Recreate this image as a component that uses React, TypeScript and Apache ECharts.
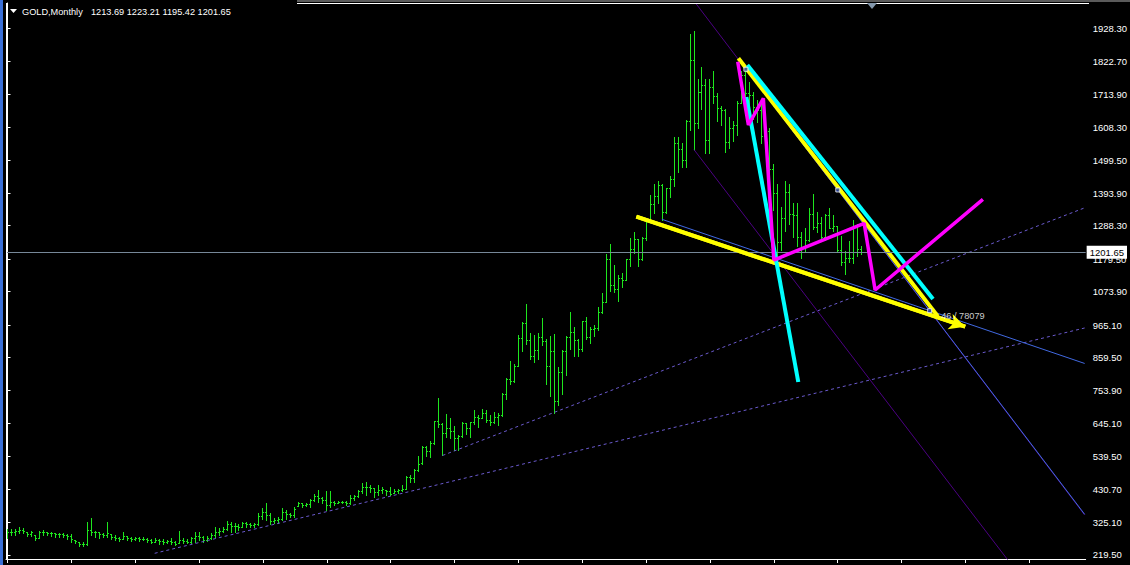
import React, { useEffect, useRef } from "react";
import * as echarts from "echarts";

// ---------- axis ticks ----------
const priceTicks = [1928.3, 1822.7, 1713.9, 1608.3, 1499.5, 1393.9, 1288.3, 1179.5, 1073.9, 965.1, 859.5, 753.9, 645.1, 539.5, 430.7, 325.1, 219.5];
const timeTicks = [0, 16, 32, 48, 64, 80, 96, 112, 128, 144, 160, 176, 192, 208, 224, 240, 256];

const titleSymbol = "GOLD,Monthly";
const titleQuote = "1213.69 1223.21 1195.42 1201.65";
const lastPrice = 1201.65;
const noteText = "46 / 78079";

// ---------- monthly bars (open, high, low, close) ----------
const barOpen = [
  298, 294, 292, 296, 300, 295, 288, 284, 275, 292,
  294, 291, 290, 288, 287, 285, 282, 268, 262, 256,
  255, 300, 294, 292, 288, 284, 287, 278, 274, 270,
  281, 275, 272, 273, 272, 271, 268, 262, 268, 264,
  262, 265, 262, 257, 266, 264, 262, 273, 282, 276,
  268, 275, 283, 293, 298, 304, 320, 312, 314, 310,
  322, 318, 316, 320, 345, 360, 348, 330, 332, 335,
  360, 352, 348, 378, 387, 380, 384, 398, 410, 404,
  396, 380, 392, 389, 392, 391, 388, 405, 410, 425,
  440, 438, 435, 422, 430, 430, 428, 421, 426,
  429, 433, 473, 470, 495, 517, 568, 556, 582, 654,
  643, 614, 632, 623, 599, 604, 646, 632, 650, 668,
  663, 681, 656, 650, 666, 672, 743, 789, 783, 834,
  923, 972, 916, 864, 885, 927, 913, 833, 880, 718,
  814, 882, 927, 942, 916, 887, 979, 926, 954, 955,
  1008, 1040, 1181, 1096, 1082, 1118, 1113, 1179, 1213, 1244,
  1181, 1247, 1307, 1358, 1386, 1420, 1332, 1410, 1439, 1556,
  1536, 1500, 1628, 1826, 1620, 1722, 1746, 1566, 1738, 1710,
  1669, 1664, 1561, 1604, 1615, 1687, 1776, 1719, 1712, 1675,
  1663, 1578, 1597, 1472, 1393, 1234, 1313, 1396, 1327, 1323,
  1250, 1202, 1240, 1326, 1284, 1296, 1250, 1322, 1282, 1286,
  1208, 1171, 1183, 1184, 1284, 1213.69,
];
const barHigh = [
  302, 302, 302, 311, 305, 295, 297, 284, 297, 300,
  295, 295, 291, 291, 291, 287, 287, 268, 262, 262,
  327, 340, 297, 292, 289, 327, 287, 284, 278, 295,
  281, 276, 276, 276, 276, 273, 270, 273, 270, 270,
  268, 273, 264, 298, 273, 270, 278, 295, 295, 281,
  281, 289, 309, 305, 311, 330, 325, 322, 320, 327,
  325, 322, 322, 354, 370, 387, 354, 338, 341, 370,
  365, 356, 376, 392, 387, 387, 400, 417, 430, 408,
  428, 428, 395, 395, 395, 395, 414, 414, 430, 452,
  457, 446, 435, 446, 441, 430, 441, 432, 432,
  447, 474, 479, 497, 541, 572, 573, 588, 654, 730,
  646, 676, 663, 637, 608, 650, 649, 652, 690, 673,
  692, 691, 672, 683, 679, 745, 795, 848, 838, 933,
  976, 1033, 939, 934, 940, 988, 919, 930, 935, 830,
  885, 930, 1007, 960, 919, 980, 990, 960, 964, 1025,
  1071, 1195, 1227, 1162, 1128, 1136, 1180, 1249, 1266, 1245,
  1250, 1308, 1388, 1424, 1432, 1424, 1412, 1448, 1576, 1577,
  1557, 1632, 1912, 1921, 1765, 1803, 1764, 1764, 1791, 1718,
  1677, 1666, 1641, 1627, 1693, 1790, 1796, 1755, 1723, 1695,
  1685, 1617, 1604, 1488, 1424, 1348, 1434, 1424, 1362, 1361,
  1267, 1280, 1346, 1392, 1331, 1315, 1325, 1345, 1322, 1287,
  1255, 1207, 1239, 1307, 1293, 1223.21,
];
const barLow = [
  273, 284, 284, 291, 289, 280, 282, 268, 273, 284,
  284, 282, 278, 278, 276, 270, 262, 257, 248, 248,
  252, 284, 278, 273, 276, 276, 270, 268, 265, 270,
  268, 265, 268, 265, 268, 262, 257, 262, 255, 255,
  257, 255, 250, 257, 259, 257, 259, 262, 268, 262,
  265, 272, 278, 284, 295, 300, 295, 295, 300, 309,
  311, 311, 311, 316, 335, 333, 320, 324, 322, 333,
  335, 341, 343, 378, 376, 378, 376, 395, 392, 387,
  365, 376, 381, 387, 389, 381, 384, 397, 408, 419,
  414, 424, 408, 414, 419, 414, 414, 421, 421,
  425, 432, 457, 456, 490, 514, 540, 537, 580, 634,
  542, 603, 600, 560, 560, 603, 612, 603, 645, 636,
  663, 650, 641, 646, 642, 669, 726, 774, 780, 832,
  881, 905, 855, 846, 854, 902, 773, 735, 681, 705,
  743, 802, 889, 866, 865, 880, 921, 908, 931, 948,
  1003, 1040, 1075, 1074, 1044, 1089, 1112, 1158, 1198, 1156,
  1176, 1242, 1307, 1330, 1361, 1308, 1328, 1381, 1416, 1462,
  1478, 1480, 1600, 1535, 1605, 1667, 1523, 1524, 1686, 1627,
  1614, 1527, 1540, 1564, 1583, 1685, 1692, 1672, 1635, 1626,
  1555, 1562, 1322, 1338, 1180, 1208, 1272, 1292, 1251, 1221,
  1182, 1202, 1238, 1277, 1268, 1240, 1240, 1280, 1272, 1206,
  1161, 1131, 1170, 1167, 1190, 1195.42,
];
const barClose = [
  294, 292, 296, 300, 296, 288, 292, 275, 292, 294,
  291, 290, 288, 287, 285, 282, 270, 263, 256, 255,
  300, 294, 292, 288, 284, 290, 278, 274, 270, 282,
  275, 272, 273, 272, 271, 268, 262, 268, 264, 262,
  265, 262, 256, 266, 264, 262, 273, 282, 276, 268,
  275, 283, 293, 298, 304, 320, 312, 314, 310, 322,
  318, 316, 320, 345, 360, 348, 330, 332, 335, 360,
  352, 348, 368, 388, 380, 384, 398, 410, 404, 396,
  380, 392, 389, 392, 391, 388, 405, 410, 425, 440,
  438, 436, 422, 430, 434, 428, 418, 426, 430,
  433, 473, 470, 495, 513, 568, 556, 582, 654, 643,
  614, 632, 623, 599, 604, 646, 632, 650, 668, 663,
  681, 656, 650, 666, 672, 743, 789, 783, 834, 923,
  972, 916, 864, 885, 927, 913, 833, 880, 718, 814,
  882, 927, 942, 916, 887, 979, 926, 954, 955, 1008,
  1040, 1181, 1096, 1082, 1118, 1113, 1179, 1213, 1244, 1181,
  1247, 1307, 1358, 1386, 1420, 1332, 1410, 1439, 1556, 1536,
  1500, 1628, 1826, 1620, 1722, 1746, 1566, 1738, 1710, 1669,
  1664, 1561, 1604, 1615, 1687, 1776, 1719, 1712, 1675, 1663,
  1578, 1597, 1472, 1393, 1234, 1313, 1396, 1327, 1323, 1250,
  1202, 1240, 1326, 1284, 1296, 1250, 1322, 1282, 1286, 1208,
  1171, 1183, 1184, 1284, 1213, 1201.65,
];

// ---------- drawn objects, in (bar index, price) ----------
const trendLowerDash = [[36.875, 224.3], [269.875, 955.9]];
const trendUpperDash = [[109, 542], [269.875, 1346]];
const channelUpper = [[172.375, 2011.1], [269.875, 348.7]];
const channelLower = [[172, 1535], [250.625, 202.6]];
const blueRay = [[185, 1796], [231.05, 1012], [269.875, 351]];
const blueTrend = [[163.95, 1308.8], [269.875, 840.7]];
const yellowLower = [[157.55, 1317.2], [239.95, 960.1]];
const yellowUpper = [[183.125, 1831.5], [233.125, 993.2]];
const cyanLong = [[185.375, 1809.8], [231.875, 1050.0]];
const cyanSteep = [[185.125, 1705.9], [198.125, 780.5]];
const magentaPath = [
  [182.95, 1820.5], [185.625, 1615.0], [189.375, 1701.7], [192.0, 1176.6],
  [214.625, 1295.8], [217.375, 1079.2], [244.375, 1373.7],
];
const handles = [[185, 1796], [208.025, 1404], [231.05, 1012]];

const X_MIN = -0.375;
const X_MAX = 270.125;
const Y_MIN = 205.8;
const Y_MAX = 2011.1;

const BAR_COLOR = "#1ee61e";
const FONT = "Liberation Sans";

function renderBar(_params: any, api: any) {
  const i = api.value(0);
  const pH = api.coord([i, api.value(2)]);
  const pL = api.coord([i, api.value(3)]);
  const pO = api.coord([i, api.value(1)]);
  const pC = api.coord([i, api.value(4)]);
  const x = Math.floor(pH[0]);
  const yTop = Math.round(pH[1]);
  const yBot = Math.round(pL[1]);
  const style = { fill: BAR_COLOR };
  return {
    type: "group",
    children: [
      { type: "rect", shape: { x, y: yTop, width: 1, height: Math.max(1, yBot - yTop + 1) }, style },
      { type: "rect", shape: { x: x - 1, y: Math.round(pO[1]), width: 1, height: 1 }, style },
      { type: "rect", shape: { x: x + 1, y: Math.round(pC[1]), width: 1, height: 1 }, style },
    ],
  };
}

function lineSeries(data: number[][], color: string, width: number, z: number, dash?: number[]) {
  return {
    type: "line",
    data,
    showSymbol: false,
    symbol: "none",
    silent: true,
    clip: true,
    z,
    lineStyle: { color, width, type: dash ? dash : "solid" },
  };
}

export default function App() {
  const ref = useRef<HTMLDivElement>(null);
  useEffect(() => {
    document.body.style.margin = "0";
    const chart = echarts.init(ref.current as HTMLDivElement, null, { renderer: "svg" });
    const bars = barOpen.map((o, i) => [i, o, barHigh[i], barLow[i], barClose[i]]);
    const option: any = {
      animation: false,
      backgroundColor: "#000000",
      grid: { left: 6, right: 42, top: 3, bottom: 6, show: false },
      xAxis: {
        type: "value",
        min: X_MIN,
        max: X_MAX,
        axisLine: { show: true, lineStyle: { color: "#ffffff", width: 1 } },
        axisTick: { show: true, customValues: timeTicks, length: 4, lineStyle: { color: "#ffffff" } },
        axisLabel: { show: false },
        splitLine: { show: false },
      },
      yAxis: {
        type: "value",
        position: "right",
        min: Y_MIN,
        max: Y_MAX,
        axisLine: { show: true, lineStyle: { color: "#ffffff", width: 1 } },
        axisTick: { show: true, customValues: priceTicks, length: 3, lineStyle: { color: "#ffffff" } },
        axisLabel: {
          customValues: priceTicks,
          color: "#ffffff",
          fontSize: 9.5,
          fontFamily: FONT,
          margin: 7,
          formatter: (v: number) => v.toFixed(2),
        },
        splitLine: { show: false },
      },
      graphic: [
        { type: "rect", shape: { x: 0, y: 0, width: 3, height: 565 }, style: { fill: "#3a6fd6" }, z: 100 },
        { type: "rect", shape: { x: 297, y: 0, width: 833, height: 2 }, style: { fill: "#5a5a5a" }, z: 100 },
        { type: "rect", shape: { x: 297, y: 3, width: 792, height: 1 }, style: { fill: "#ffffff" }, z: 100 },
        { type: "rect", shape: { x: 6, y: 3, width: 1, height: 556 }, style: { fill: "#ffffff" }, z: 100 },
        { type: "polygon", shape: { points: [[867, 3], [877, 3], [872, 9]] }, style: { fill: "#8397ab" }, z: 101 },
        { type: "polygon", shape: { points: [[10, 9], [17, 9], [13.5, 13]] }, style: { fill: "#ffffff" }, z: 101 },
        {
          type: "text", x: 22, y: 12, z: 101,
          style: { text: titleSymbol, fill: "#ffffff", font: `9.2px "${FONT}"`, verticalAlign: "middle" },
        },
        {
          type: "text", x: 91, y: 12, z: 101,
          style: { text: titleQuote, fill: "#ffffff", font: `9.2px "${FONT}"`, verticalAlign: "middle" },
        },
      ],
      series: [
        {
          type: "custom",
          renderItem: renderBar,
          data: bars,
          encode: { x: 0, y: [2, 3] },
          clip: true,
          silent: true,
          z: 2,
          markLine: {
            silent: true,
            symbol: ["none", "none"],
            lineStyle: { color: "#778899", width: 1, type: "solid" },
            label: {
              show: true,
              position: "end",
              formatter: lastPrice.toFixed(2),
              color: "#000000",
              backgroundColor: "#ffffff",
              padding: [2, 3, 1, 3],
              fontSize: 9.5,
              fontFamily: FONT,
              distance: 1,
            },
            data: [{ yAxis: lastPrice }],
          },
        },
        lineSeries(trendLowerDash, "#6a5acd", 1, 3, [3, 3]),
        lineSeries(trendUpperDash, "#6a5acd", 1, 3, [3, 3]),
        lineSeries(channelUpper, "#4b0082", 1, 3),
        lineSeries(channelLower, "#4b0082", 1, 3),
        lineSeries(blueTrend, "#4169e1", 1, 3),
        lineSeries(blueRay, "#4169e1", 1, 3),
        {
          ...lineSeries(yellowLower, "#ffff00", 4, 4),
          markLine: {
            silent: true,
            symbol: ["none", "arrow"],
            symbolSize: [12, 16],
            lineStyle: { color: "#ffff00", width: 4, type: "solid" },
            itemStyle: { color: "#ffff00" },
            label: { show: false },
            data: [[{ coord: yellowLower[0] }, { coord: yellowLower[1] }]],
          },
        },
        lineSeries(yellowUpper, "#ffff00", 4, 4),
        lineSeries(cyanLong, "#00ffff", 4, 5),
        lineSeries(cyanSteep, "#00ffff", 4, 5),
        lineSeries(magentaPath, "#ff00ff", 3.5, 6),
        {
          type: "scatter",
          data: handles.map((h, k) =>
            k === 2
              ? {
                  value: h,
                  label: {
                    show: true,
                    formatter: noteText,
                    position: "right",
                    distance: 9,
                    offset: [0, 5],
                    color: "#ffffff",
                    fontSize: 9.2,
                    fontFamily: FONT,
                  },
                }
              : { value: h }
          ),
          symbol: "rect",
          symbolSize: 4,
          silent: true,
          z: 7,
          itemStyle: { color: "#2040a0", borderColor: "#ffffff", borderWidth: 1 },
        },
      ],
    };
    chart.setOption(option);
    return () => chart.dispose();
  }, []);
  return (
    <div
      ref={ref}
      style={{ position: "fixed", left: 0, top: 0, width: 1130, height: 565, background: "#000" }}
    />
  );
}
